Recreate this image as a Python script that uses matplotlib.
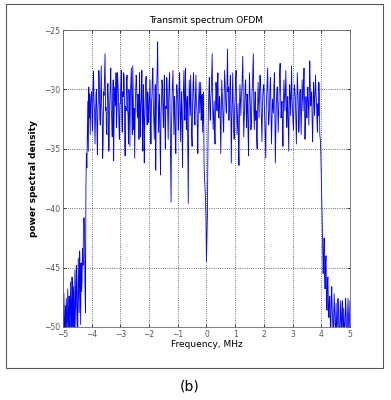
import numpy as np
import matplotlib.pyplot as plt
from matplotlib.patches import Rectangle

# PSD, dB, one value every 1/60 MHz from -5 to 5 MHz
psd_left = [-48.6, -50.5, -47.2, -49.8, -51.0, -48.2, -50.5, -47.6, -49.4, -51.0,
            -46.8, -48.8, -50.6, -47.4, -49.6, -51.0, -46.2, -48.4, -50.5, -45.8,
            -47.6, -50.2, -46.6, -49.0, -51.0, -45.2, -47.4, -50.0, -44.8, -46.4,
            -49.4, -51.0, -44.2, -46.6, -48.8, -43.6, -45.8, -49.8, -44.6, -47.0,
            -46.0, -43.4, -44.8, -41.2, -40.8, -41.4, -46.6, -48.8, -38.5, -35.4,
            -36.6, -33.6, -31.0, -35.2, -29.8, -32.4, -30.4, -33.8, -31.2, -30.6]
psd_m4 = [-30.2, -32.8, -33.5, -29.6, -28.5, -31.2, -31.8, -34.6, -32.5, -30.4,
          -30.0, -33.2, -35.5, -31.6, -31.0, -28.4, -29.2, -32.2, -33.0, -30.6,
          -28.0, -31.4, -32.0, -35.8, -34.5, -30.2, -30.5, -28.8, -27.0, -31.8,
          -31.5, -33.6, -33.8, -30.2, -29.5, -31.0, -35.2, -32.6, -30.8, -29.4,
          -28.2, -31.6, -32.6, -34.0, -31.0, -29.2, -36.0, -32.4, -29.8, -30.6,
          -31.4, -28.6, -33.2, -31.8, -28.6, -29.4, -30.4, -33.0, -34.2, -31.2]
psd_m3 = [-31.2, -29.6, -28.4, -32.4, -33.6, -30.2, -30.6, -28.6, -29.0, -33.2,
          -35.6, -31.4, -31.8, -29.4, -28.8, -31.6, -32.2, -34.6, -30.0, -31.2,
          -34.8, -30.4, -29.4, -28.2, -31.6, -33.8, -28.0, -30.6, -33.4, -31.6,
          -35.8, -32.2, -30.2, -28.8, -29.2, -31.8, -32.4, -30.4, -31.0, -34.2,
          -28.6, -30.2, -34.0, -31.4, -30.8, -28.4, -32.8, -35.2, -29.6, -30.8,
          -36.2, -32.6, -31.4, -29.2, -28.9, -31.6, -33.0, -30.2, -30.4, -32.8]
psd_m2 = [-31.8, -30.4, -29.2, -32.6, -34.6, -31.2, -30.6, -28.6, -28.2, -31.4,
          -32.8, -34.2, -31.2, -29.6, -36.8, -32.4, -29.8, -28.2, -26.0, -30.8,
          -33.6, -31.6, -30.4, -34.6, -37.2, -32.2, -31.0, -29.2, -29.6, -31.8,
          -33.2, -30.4, -28.8, -32.6, -35.0, -31.4, -31.6, -29.0, -30.0, -32.2,
          -34.2, -30.8, -29.4, -28.6, -32.4, -35.6, -39.5, -33.2, -30.8, -29.6,
          -28.4, -31.2, -33.8, -30.6, -31.2, -34.6, -35.4, -31.0, -29.6, -30.2]
psd_m1 = [-31.0, -33.4, -32.8, -29.8, -28.6, -31.6, -34.4, -31.8, -30.2, -33.2,
          -36.6, -31.4, -29.8, -28.4, -31.8, -32.6, -28.2, -30.4, -33.4, -31.2,
          -30.6, -35.2, -39.6, -32.4, -29.2, -30.6, -32.2, -28.8, -31.4, -33.8,
          -34.8, -31.2, -29.6, -28.6, -30.8, -32.4, -33.0, -30.6, -28.8, -31.2,
          -31.6, -33.2, -35.4, -31.6, -30.4, -29.4, -32.0, -30.8, -29.4, -32.6,
          -31.2, -30.4, -33.6, -31.8, -30.2, -36.2, -37.6, -38.2, -39.2, -41.0]
psd_p0 = [-44.5, -42.6, -40.6, -35.4, -31.8, -30.2, -29.0, -31.6, -32.6, -30.8,
          -30.2, -28.6, -27.0, -31.2, -33.4, -32.2, -31.0, -33.6, -34.6, -31.2,
          -29.4, -30.4, -31.8, -29.6, -28.6, -32.2, -32.4, -30.6, -30.8, -33.2,
          -35.4, -31.8, -29.2, -30.4, -31.4, -32.8, -33.6, -30.6, -28.4, -29.6,
          -30.6, -31.8, -32.0, -29.4, -26.6, -30.2, -29.8, -32.6, -31.6, -29.8,
          -28.8, -31.4, -36.2, -32.6, -30.4, -28.6, -31.8, -33.4, -34.2, -31.6]
psd_p1 = [-30.6, -29.2, -28.4, -31.6, -33.8, -32.4, -31.2, -34.8, -36.4, -31.8,
          -29.6, -30.8, -32.2, -30.4, -30.0, -28.6, -27.2, -31.4, -34.0, -32.6,
          -31.4, -29.6, -29.2, -31.8, -33.2, -30.4, -30.8, -33.8, -35.6, -31.2,
          -28.6, -30.2, -31.6, -33.4, -32.8, -30.6, -29.8, -28.4, -27.0, -31.6,
          -33.4, -31.2, -30.2, -32.6, -31.8, -34.2, -35.0, -31.4, -29.4, -30.8,
          -32.4, -30.2, -28.8, -29.6, -31.0, -32.8, -34.4, -31.6, -30.4, -29.8]
psd_p2 = [-29.6, -31.4, -32.6, -34.2, -35.8, -31.6, -30.4, -29.2, -28.2, -31.2,
          -33.0, -32.4, -31.2, -29.6, -29.0, -32.2, -34.6, -32.8, -30.8, -31.4,
          -32.0, -29.8, -28.6, -31.6, -36.2, -33.8, -31.4, -30.2, -29.8, -31.2,
          -33.6, -31.8, -30.2, -28.6, -27.8, -30.4, -32.4, -31.6, -31.0, -33.2,
          -34.8, -31.4, -29.2, -30.6, -31.8, -30.2, -28.4, -30.8, -33.2, -31.6,
          -30.6, -32.8, -35.2, -31.6, -29.6, -30.4, -32.2, -30.4, -28.0, -30.8]
psd_p3 = [-31.6, -32.8, -33.4, -30.8, -29.6, -30.2, -30.8, -32.6, -34.6, -31.4,
          -28.6, -29.8, -31.2, -33.6, -32.8, -30.4, -30.0, -31.8, -33.8, -31.6,
          -29.2, -30.6, -31.8, -29.6, -28.2, -31.4, -34.2, -32.6, -30.6, -31.4,
          -32.4, -30.8, -29.8, -31.2, -33.0, -30.6, -27.6, -29.8, -31.4, -30.6,
          -30.2, -32.8, -34.4, -31.8, -29.4, -30.4, -32.2, -30.6, -28.8, -30.2,
          -31.0, -32.6, -33.6, -31.2, -32.2, -29.4, -30.4, -33.8, -34.2, -35.2]
psd_right = [-37.0, -39.2, -41.0, -43.4, -45.5, -44.2, -42.5, -45.6, -46.8, -44.6,
             -44.0, -47.2, -48.6, -46.2, -45.8, -48.4, -49.2, -47.6, -47.4, -49.8,
             -50.5, -47.8, -46.6, -48.6, -49.6, -51.0, -49.2, -47.2, -48.8, -50.2,
             -51.0, -48.0, -49.4, -51.0, -49.2, -47.6, -48.8, -50.5, -51.0, -49.2,
             -47.8, -49.6, -51.0, -48.6, -47.8, -50.2, -50.6, -48.4, -49.8, -51.0,
             -49.6, -47.6, -48.8, -50.8, -51.0, -49.0, -47.6, -49.4, -51.0, -49.2,
             -47.8]

psd = (psd_left + psd_m4 + psd_m3 + psd_m2 + psd_m1 +
       psd_p0 + psd_p1 + psd_p2 + psd_p3 + psd_right)
freq = np.linspace(-5, 5, len(psd))

x_ticks = [-5, -4, -3, -2, -1, 0, 1, 2, 3, 4, 5]
y_ticks = [-50, -45, -40, -35, -30, -25]

fig = plt.figure(figsize=(3.91, 4.0), dpi=100)
# grey frame round the whole figure, as in the scanned picture
fig.patches.append(Rectangle((0.015, 0.08), 0.965, 0.91, transform=fig.transFigure,
                             fill=False, edgecolor="#555555", linewidth=0.8))

ax = fig.add_axes([0.161, 0.1825, 0.734, 0.7425])
ax.plot(freq, psd, color="blue", linewidth=0.6)

ax.set_xlim(-5, 5)
ax.set_ylim(-50, -25)
ax.set_xticks(x_ticks)
ax.set_yticks(y_ticks)
ax.grid(True, linestyle=":", color="#444444", linewidth=0.6)
ax.tick_params(direction="in", length=2.5, width=0.5, labelsize=5.5,
               labelcolor="#555555", top=True, right=True, pad=2)
for s in ax.spines.values():
    s.set_color("#666666")
    s.set_linewidth(0.6)

ax.set_title("Transmit spectrum OFDM", fontsize=6.5, pad=5)
ax.set_xlabel("Frequency, MHz", fontsize=6.5, labelpad=1)
ax.set_ylabel("power spectral density", fontsize=6.5, fontweight="bold", labelpad=4)

fig.text(0.484, 0.033, "(b)", fontsize=10, ha="center", va="center")

plt.savefig("out.png", dpi=100)
plt.close(fig)
